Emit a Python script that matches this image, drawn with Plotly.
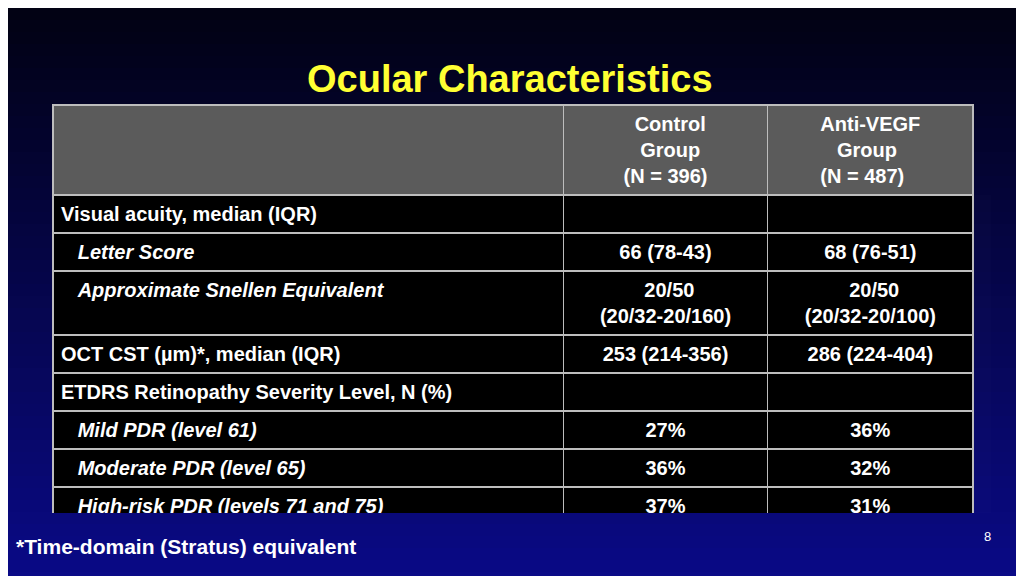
import plotly.graph_objects as go

# table content
nb = "\u00a0"
header = ["",
          "<b>" + nb * 2 + "Control<br>" + nb * 3 + "Group<br>(N = 396)</b>",
          "<b>Anti-VEGF<br>" + nb * 3 + "Group<br>(N = 487)</b>"]
sp = nb * 3
row_labels = [
    "Visual acuity, median (IQR)",
    sp + "<i>Letter Score</i>",
    sp + "<i>Approximate Snellen Equivalent</i>",
    "OCT CST (\u00b5m)*, median (IQR)",
    "ETDRS Retinopathy Severity Level, N (%)",
    sp + "<i>Mild PDR (level 61)</i>",
    sp + "<i>Moderate PDR (level 65)</i>",
    sp + "<i>High-risk PDR (levels 71 and 75)</i>",
    sp + "<i>Advanced PDR (levels 81 and 85)</i>",
]
control = ["", "66 (78-43)", nb * 8 + "20/50<br>(20/32-20/160)", "253 (214-356)", "",
           "27%", "36%", "37%", "<1%"]
anti_vegf = ["", "68 (76-51)", nb * 8 + "20/50<br>(20/32-20/100)", "286 (224-404)", "",
             "36%", "32%", "31%", "<1%"]

W, H = 1024, 576
fig = go.Figure()

# background gradient: near-black at top to dark blue at bottom
n = 48
shapes = []
for i in range(n):
    t = i / (n - 1)
    col = "rgb(%d,%d,%d)" % (int(2 + 8 * t), int(2 + 8 * t), int(20 + 115 * t))
    shapes.append(dict(type="rect", xref="paper", yref="paper", layer="below",
                       x0=0, x1=1, y0=1 - (i + 1) / n, y1=1 - i / n,
                       fillcolor=col, line=dict(width=0)))

bold = lambda v: ["<b>%s</b>" % s if s else "" for s in v]
font = dict(family="Liberation Sans, Arial", size=20, color="white")

fig.add_trace(go.Table(
    domain=dict(x=[45 / W, 965 / W], y=[1 - 505 / H, 1 - 97 / H]),
    columnwidth=[512, 205, 206],
    header=dict(values=header, fill_color="#5b5b5b",
                line=dict(color="#bdbdbd", width=1.5),
                font=font, align="center", height=22),
    cells=dict(values=[bold(row_labels), bold(control), bold(anti_vegf)],
               fill_color="black",
               line=dict(color="#bdbdbd", width=1.5),
               font=font, align=["left", "center", "center"], height=22),
))

fig.update_layout(
    width=W, height=H, margin=dict(l=0, r=0, t=0, b=0),
    paper_bgcolor="black", plot_bgcolor="black", shapes=shapes,
    annotations=[
        dict(text="<b>Ocular Characteristics</b>", x=0.49, y=1 - 48 / H,
             xref="paper", yref="paper", showarrow=False,
             font=dict(family="Liberation Sans, Arial", size=38, color="#ffff33")),
        dict(text="<b>*Time-domain (Stratus) equivalent</b>", x=6 / W, y=1 - 552 / H,
             xref="paper", yref="paper", showarrow=False, xanchor="left",
             font=dict(family="Liberation Sans, Arial", size=21, color="white")),
        dict(text="8", x=985 / W, y=1 - 538 / H, xref="paper", yref="paper",
             showarrow=False, font=dict(family="Liberation Sans, Arial", size=13,
                                         color="white")),
    ],
)

fig.write_html("out.html")
